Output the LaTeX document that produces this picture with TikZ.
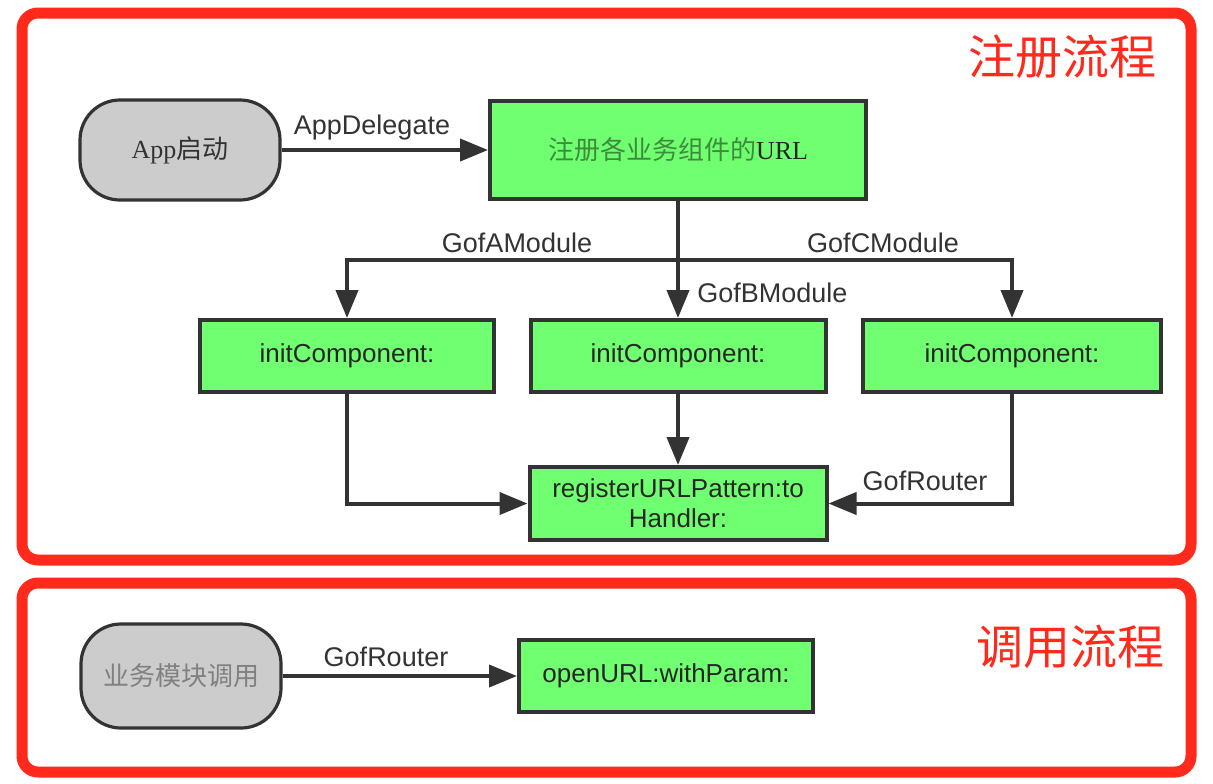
\documentclass[tikz,border=0pt]{standalone}
\usepackage{fontspec}
\setmainfont{Liberation Sans}
\newfontfamily\cjk{Noto Sans CJK SC}
\newfontfamily\serifx{Liberation Serif}
\usetikzlibrary{arrows.meta,calc}
\definecolor{framered}{HTML}{FF2A1C}
\definecolor{boxgreen}{HTML}{70FF70}
\definecolor{edgec}{HTML}{333333}
\definecolor{grayfill}{HTML}{CCCCCC}
\definecolor{cjkgreen}{HTML}{3C8C3C}
\tikzset{
  redframe/.style={draw=framered, line width=5.5pt, rounded corners=8pt},
  gbox/.style={draw=edgec, line width=2pt, fill=boxgreen, minimum width=#1, minimum height=36pt, inner sep=0pt, text=black!85, font=\fontsize{13}{15}\selectfont, align=center},
  stad/.style={draw=edgec, line width=1.6pt, fill=grayfill, rounded corners=20pt, minimum width=100pt, minimum height=#1, inner sep=0pt, font=\fontsize{13}{15}\selectfont},
  arr/.style={draw=edgec, line width=2pt, -{Triangle[length=14pt,width=11pt]}},
  lbl/.style={text=edgec, font=\fontsize{13.5}{15}\selectfont, inner sep=0pt},
  title/.style={text=framered, font=\cjk\fontsize{23.5}{26}\selectfont, inner sep=0pt}
}
\begin{document}
\begin{tikzpicture}[x=0.5pt,y=-0.5pt]
\useasboundingbox[fill=white] (0,0) rectangle (1213,783);
% frames
\draw[redframe] (22,13) rectangle (1191,560);
\draw[redframe] (22,583) rectangle (1191,772);
\node[title] (t1) at (1062,57) {注册流程};
\node[title] (t2) at (1070,647) {调用流程};
% nodes
\node[stad=50pt, text=edgec] (app) at (180,150) {\serifx App\cjk 启动};
\node[gbox=188pt, minimum height=49pt] (reg) at (678,150) {\cjk\color{cjkgreen}注册各业务组件的\serifx\color{black!85}URL};
\node[gbox=147pt] (initA) at (347,356) {initComponent:};
\node[gbox=147.5pt] (initB) at (678,356) {initComponent:};
\node[gbox=149pt] (initC) at (1012,356) {initComponent:};
\node[gbox=148.5pt, minimum height=36.5pt] (regp) at (678,503.5) {registerURLPattern:to\\Handler:};
\node[stad=52pt, text=black!50] (busi) at (181,676) {\cjk 业务模块调用};
\node[gbox=147pt] (open) at (666,676) {openURL:withParam:};
% connectors
\draw[arr] (app.east) -- (reg.west);
\node[lbl] (lAD) at (372,128) {AppDelegate};
\coordinate (br) at (678,260);
\draw[arr] (reg.south) -- (initB.north);
\draw[arr] (br) -| (initA.north);
\draw[arr] (br) -| (initC.north);
\node[lbl] (lA) at (517,243) {GofAModule};
\node[lbl] (lC) at (883,243) {GofCModule};
\node[lbl, anchor=west] (lB) at (697,293) {GofBModule};
\draw[arr] (initA.south) |- (regp.west);
\draw[arr] (initB.south) -- (regp.north);
\draw[arr] (initC.south) |- (regp.east);
\node[lbl] (lR1) at (925,481) {GofRouter};
\draw[arr] (busi.east) -- (open.west);
\node[lbl] (lR2) at (386,657) {GofRouter};
\end{tikzpicture}
\end{document}
